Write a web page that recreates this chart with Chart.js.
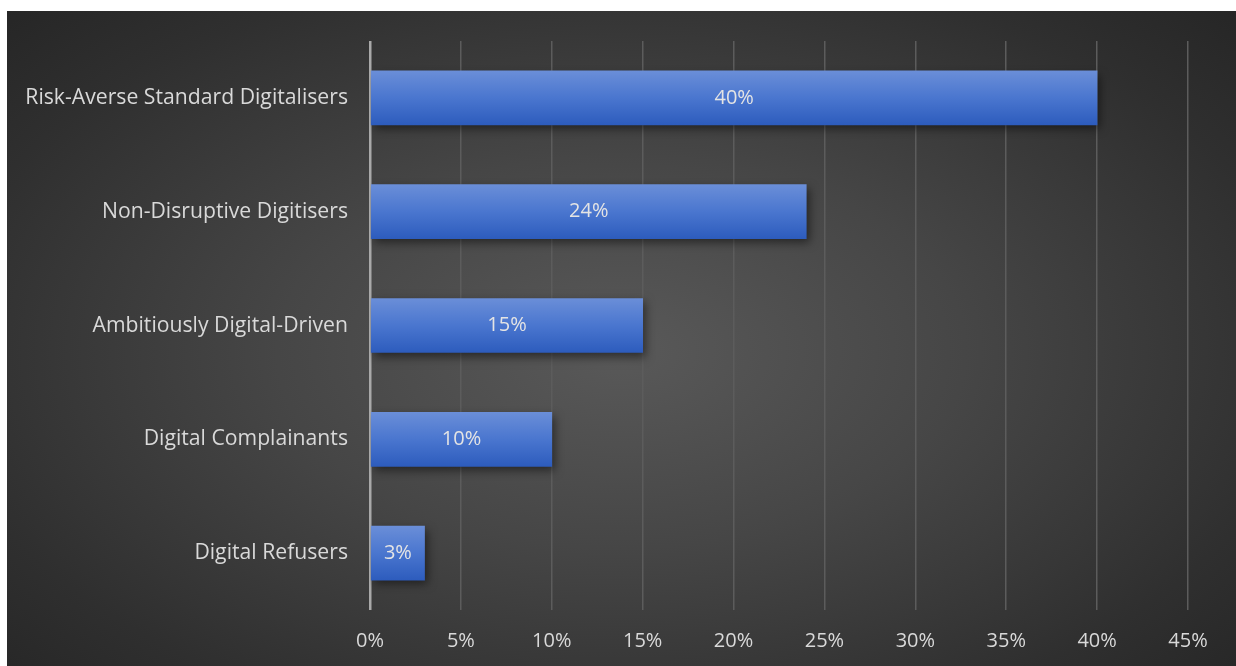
<!DOCTYPE html>
<html lang="en">
<head>
  <meta charset="UTF-8">
  <title>Digital segments</title>
  <script src="https://cdn.jsdelivr.net/npm/chart.js"></script>
  <style>
    body {
      margin: 0;
      background: #ffffff;
      width: 1236px;
      height: 666px;
      overflow: hidden;
    }
    .chart-container {
      position: absolute;
      left: 7px;
      top: 11px;
      width: 1229px;
      height: 655px;
      background: radial-gradient(ellipse 70% 75% at 50% 52%, #595959 0%, #464646 40%, #2f2f2f 80%, #262626 100%);
    }
  </style>
</head>
<body>
  <div class="chart-container">
    <canvas id="segChart"></canvas>
  </div>

  <script>
    const categories = [
      'Risk-Averse Standard Digitalisers',
      'Non-Disruptive Digitisers',
      'Ambitiously Digital-Driven',
      'Digital Complainants',
      'Digital Refusers'
    ];
    const shares = [40, 24, 15, 10, 3];
    const tickValues = [0, 5, 10, 15, 20, 25, 30, 35, 40, 45];

    const fontFamily = "'Open Sans', 'Noto Sans', sans-serif";

    // bar fill: light blue on top, deeper blue at the bottom
    function barFill(context) {
      const chart = context.chart;
      const yScale = chart.scales.y;
      if (!chart.chartArea || !yScale) return '#4a76cf';
      const y = yScale.getPixelForValue(context.dataIndex);
      if (!isFinite(y)) return '#4a76cf';
      const half = 27;
      const g = chart.ctx.createLinearGradient(0, y - half, 0, y + half);
      g.addColorStop(0, '#6a8ed8');
      g.addColorStop(0.5, '#4a76cf');
      g.addColorStop(1, '#2d5cbd');
      return g;
    }

    const barShadow = {
      id: 'barShadow',
      beforeDatasetsDraw(chart) {
        const ctx = chart.ctx;
        ctx.save();
        ctx.shadowColor = 'rgba(0, 0, 0, 0.5)';
        ctx.shadowBlur = 9;
        ctx.shadowOffsetX = 3;
        ctx.shadowOffsetY = 4;
      },
      afterDatasetsDraw(chart) {
        chart.ctx.restore();
      }
    };

    const valueLabels = {
      id: 'valueLabels',
      afterDatasetsDraw(chart) {
        const ctx = chart.ctx;
        const meta = chart.getDatasetMeta(0);
        ctx.save();
        ctx.fillStyle = '#e4e4e4';
        ctx.font = '20px ' + fontFamily;
        ctx.textAlign = 'center';
        ctx.textBaseline = 'middle';
        meta.data.forEach((bar, i) => {
          const x = (bar.base + bar.x) / 2;
          ctx.fillText(shares[i] + '%', x, bar.y);
        });
        ctx.restore();
      }
    };

    const ctx = document.getElementById('segChart').getContext('2d');
    new Chart(ctx, {
      type: 'bar',
      data: {
        labels: categories,
        datasets: [{
          data: shares,
          backgroundColor: barFill,
          borderWidth: 0,
          barThickness: 54
        }]
      },
      plugins: [barShadow, valueLabels],
      options: {
        indexAxis: 'y',
        responsive: true,
        maintainAspectRatio: false,
        animation: false,
        layout: {
          padding: { top: 30, right: 48, bottom: 0, left: 0 }
        },
        plugins: {
          legend: { display: false },
          tooltip: { enabled: false }
        },
        scales: {
          x: {
            min: 0,
            max: 45,
            afterBuildTicks(scale) {
              scale.ticks = tickValues.map(v => ({ value: v }));
            },
            afterFit(scale) {
              scale.height = 56;
            },
            border: { display: false },
            grid: {
              drawTicks: false,
              color: c => c.index === 0 ? '#a9a9a9' : '#5c5c5c',
              lineWidth: c => c.index === 0 ? 2.5 : 1.5
            },
            ticks: {
              padding: 19,
              color: '#d9d9d9',
              font: { family: fontFamily, size: 20 },
              callback: v => v + '%'
            }
          },
          y: {
            afterFit(scale) {
              scale.width = 363;
              scale.paddingTop = 0;
              scale.paddingBottom = 0;
            },
            border: { display: false },
            grid: { display: false, drawTicks: false },
            ticks: {
              padding: 22,
              color: '#d9d9d9',
              font: { family: fontFamily, size: 21.2 }
            }
          }
        }
      }
    });
  </script>
</body>
</html>
